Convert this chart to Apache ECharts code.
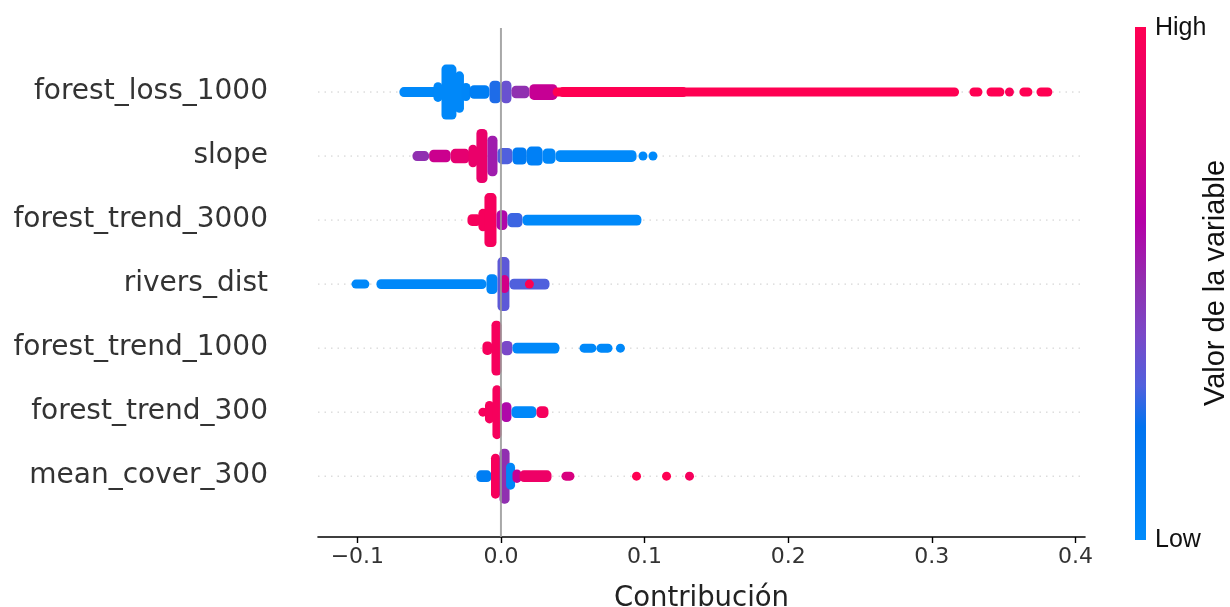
<!DOCTYPE html>
<html>
<head>
<meta charset="utf-8">
<script src="https://cdn.jsdelivr.net/npm/echarts@6/dist/echarts.min.js"></script>
<style>
html,body{margin:0;padding:0;background:#fff;}
#chart{width:1230px;height:607px;}
</style>
</head>
<body>
<div id="chart"></div>
<script>
// Feature names, bottom (index 0) to top (index 6)
const featureNames = ['mean_cover_300', 'forest_trend_300', 'forest_trend_1000', 'rivers_dist', 'forest_trend_3000', 'slope', 'forest_loss_1000'];

const xTickValues = [-0.1, 0, 0.1, 0.2, 0.3, 0.4];
const xTickLabels = ['\u22120.1', '0.0', '0.1', '0.2', '0.3', '0.4'];

// Beeswarm clusters: [shapStart, shapEnd, stackedDots, featureValue(0=low..1=high)]
const forestLoss1000 = [
  [-0.0707, -0.0428, 1.1, 0.03],
  [-0.0463, -0.0414, 2.2, 0.03],
  [-0.0414, -0.0310, 6.1, 0.03],
  [-0.0310, -0.0268, 4.6, 0.03],
  [-0.0268, -0.0219, 2, 0.05],
  [-0.0219, -0.0080, 1.5, 0.12],
  [-0.0080, 0.0000, 2.5, 0.25],
  [0.0000, 0.0073, 2.5, 0.36],
  [0.0073, 0.0198, 1.4, 0.5],
  [0.0198, 0.0393, 1.75, 0.7],
  [0.0360, 0.3190, 1, 1],
  [0.0400, 0.1300, 1.1, 1],
  [0.3262, 0.3353, 1, 1],
  [0.3381, 0.3506, 1, 1],
  [0.3541, 0.3541, 1, 0.97],
  [0.3610, 0.3701, 1, 1],
  [0.3729, 0.3840, 1, 1]
];
const slope = [
  [-0.0616, -0.0500, 1.1, 0.5],
  [-0.0500, -0.0350, 1.4, 0.72],
  [-0.0350, -0.0219, 1.6, 0.85],
  [-0.0219, -0.0171, 2.5, 0.88],
  [-0.0171, -0.0094, 6, 0.88],
  [-0.0094, -0.0024, 4.5, 0.55],
  [-0.0024, 0.0080, 1.8, 0.3],
  [0.0080, 0.0180, 1.9, 0.15],
  [0.0180, 0.0290, 2.1, 0.1],
  [0.0290, 0.0380, 1.7, 0.05],
  [0.0380, 0.0944, 1.3, 0.02],
  [0.0965, 0.1013, 1, 0.02],
  [0.1034, 0.1083, 1, 0.02]
];
const forestTrend3000 = [
  [-0.0233, -0.0136, 1.3, 0.95],
  [-0.0136, -0.0115, 2.5, 0.95],
  [-0.0115, -0.0031, 6, 0.95],
  [-0.0031, 0.0045, 2.2, 0.6],
  [0.0045, 0.0150, 1.6, 0.28],
  [0.0150, 0.0978, 1.2, 0.02]
];
const riversDist = [
  [-0.1041, -0.0916, 1, 0.03],
  [-0.0867, -0.0101, 1.1, 0.03],
  [-0.0101, -0.0024, 2.2, 0.05],
  [-0.0024, 0.0059, 6, 0.33],
  [0.0005, 0.0045, 2, 0.75],
  [0.0059, 0.0338, 1.2, 0.3],
  [0.0198, 0.0198, 1, 1]
];
const forestTrend1000 = [
  [-0.0129, -0.0059, 1.5, 0.95],
  [-0.0066, 0.0003, 6.1, 0.95],
  [0.0003, 0.0080, 1.6, 0.4],
  [0.0080, 0.0407, 1.2, 0.03],
  [0.0547, 0.0665, 1, 0.03],
  [0.0665, 0.0777, 1, 0.03],
  [0.0804, 0.0860, 1, 0.03]
];
const forestTrend300 = [
  [-0.0150, -0.0101, 1, 0.95],
  [-0.0101, -0.0059, 2.5, 0.95],
  [-0.0059, 0.0003, 6, 0.95],
  [0.0003, 0.0073, 2.2, 0.6],
  [0.0073, 0.0247, 1.3, 0.03],
  [0.0247, 0.0331, 1.3, 0.95]
];
const meanCover300 = [
  [-0.0171, -0.0066, 1.3, 0.12],
  [-0.0066, -0.0010, 5, 0.95],
  [-0.0010, 0.0060, 6.1, 0.5],
  [0.0040, 0.0094, 3, 0.05],
  [0.0094, 0.0129, 1.5, 0.7],
  [0.0129, 0.0352, 1.3, 0.9],
  [0.0421, 0.0512, 1, 0.78],
  [0.0944, 0.0944, 1, 1],
  [0.1153, 0.1153, 1, 1],
  [0.1313, 0.1313, 1, 0.95]
];

const featureClusters = [meanCover300, forestTrend300, forestTrend1000, riversDist, forestTrend3000, slope, forestLoss1000];

const swarmData = [];
featureClusters.forEach((arr, i) => {
  arr.forEach(c => swarmData.push([c[0], c[1], i, c[2], c[3]]));
});

const colorOffsets = [0, 0.22, 0.3, 0.4, 0.5, 0.62, 0.8, 1];
const colorStops = ['#008bfb', '#0073ef', '#5060dd', '#7a48c8', '#9030b0', '#b500a8', '#dc007a', '#ff0052'];

// Colour scale lookup for a feature value (same stops as the colour bar)
function colorAt(t) {
  t = Math.max(0, Math.min(1, t));
  for (let i = 1; i < colorOffsets.length; i++) {
    if (t <= colorOffsets[i]) {
      const f = (t - colorOffsets[i - 1]) / (colorOffsets[i] - colorOffsets[i - 1]);
      const a = echarts.color.parse(colorStops[i - 1]);
      const b = echarts.color.parse(colorStops[i]);
      const c = a.map((v, k) => k < 3 ? Math.round(v + (b[k] - v) * f) : 1);
      return 'rgb(' + c[0] + ',' + c[1] + ',' + c[2] + ')';
    }
  }
  return colorStops[colorStops.length - 1];
}

const chart = echarts.init(document.getElementById('chart'), null, {renderer: 'canvas'});
const DOT = 9;

const option = {
  animation: false,
  backgroundColor: '#ffffff',
  grid: {left: 318, right: 145, top: 28, bottom: 70, containLabel: false, outerBoundsMode: 'none'},
  xAxis: {
    type: 'value',
    min: -0.1274,
    max: 0.4067,
    name: 'Contribución',
    nameLocation: 'middle',
    nameGap: 48,
    nameTextStyle: {fontFamily: 'DejaVu Sans', fontSize: 27.5, color: '#222'},
    axisLine: {show: true, onZero: false, lineStyle: {color: '#000', width: 1.6}},
    axisTick: {show: true, length: 6, customValues: xTickValues, lineStyle: {color: '#000', width: 1.4}},
    axisLabel: {
      customValues: xTickValues,
      fontFamily: 'DejaVu Sans', fontSize: 22, color: '#333', margin: 9,
      formatter: v => {
        const k = xTickValues.findIndex(t => Math.abs(t - v) < 1e-9);
        return k >= 0 ? xTickLabels[k] : '';
      }
    },
    splitLine: {show: false}
  },
  yAxis: {
    type: 'value',
    min: -0.95,
    max: 7,
    axisLine: {show: false, onZero: false},
    axisTick: {show: false},
    splitLine: {show: false},
    axisLabel: {
      customValues: featureNames.map((_, i) => i),
      fontFamily: 'DejaVu Sans', fontSize: 28, color: '#333', margin: 50,
      formatter: v => featureNames[Math.round(v)] || ''
    }
  },
  graphic: [
    {
      type: 'rect', left: 1135, top: 27,
      shape: {width: 11, height: 513},
      style: {fill: new echarts.graphic.LinearGradient(0, 1, 0, 0, colorStops.map((c, i) => ({offset: colorOffsets[i], color: c})))}
    },
    {type: 'text', x: 1155, y: 28, style: {text: 'High', fontFamily: 'Liberation Sans', fontSize: 25, fill: '#111', textVerticalAlign: 'middle'}},
    {type: 'text', x: 1155, y: 540, style: {text: 'Low', fontFamily: 'Liberation Sans', fontSize: 25, fill: '#111', textVerticalAlign: 'middle'}},
    {type: 'text', x: 1216, y: 283, rotation: Math.PI / 2, style: {text: 'Valor de la variable', fontFamily: 'Liberation Sans', fontSize: 29, fill: '#111', textAlign: 'center', textVerticalAlign: 'middle'}}
  ],
  series: [
    {
      type: 'custom',
      name: 'grid',
      z: 1,
      silent: true,
      data: featureNames.map((_, i) => [i]),
      encode: {y: 0},
      renderItem: (params, api) => {
        const cs = params.coordSys;
        const p = api.coord([0, api.value(0)]);
        return {
          type: 'line',
          shape: {x1: cs.x, y1: p[1], x2: cs.x + cs.width, y2: p[1]},
          style: {stroke: '#cccccc', lineWidth: 1, lineDash: [1.5, 5]}
        };
      }
    },
    {
      type: 'custom',
      name: 'swarm',
      z: 2,
      data: swarmData,
      encode: {x: [0, 1], y: 2},
      renderItem: (params, api) => {
        const p0 = api.coord([api.value(0), api.value(2)]);
        const p1 = api.coord([api.value(1), api.value(2)]);
        const w = Math.max(p1[0] - p0[0], DOT);
        const h = api.value(3) * DOT;
        const cx = (p0[0] + p1[0]) / 2;
        return {
          type: 'rect',
          shape: {x: cx - w / 2, y: p0[1] - h / 2, width: w, height: h, r: Math.min(w, h, DOT) / 2},
          style: {fill: colorAt(api.value(4))}
        };
      }
    },
    {
      type: 'custom',
      name: 'zero',
      z: 3,
      silent: true,
      data: [[0]],
      encode: {x: 0},
      renderItem: (params, api) => {
        const cs = params.coordSys;
        const p = api.coord([api.value(0), 0]);
        return {
          type: 'line',
          shape: {x1: p[0], y1: cs.y, x2: p[0], y2: cs.y + cs.height},
          style: {stroke: '#999999', lineWidth: 2, opacity: 0.85}
        };
      }
    }
  ]
};

chart.setOption(option);
</script>
</body>
</html>
